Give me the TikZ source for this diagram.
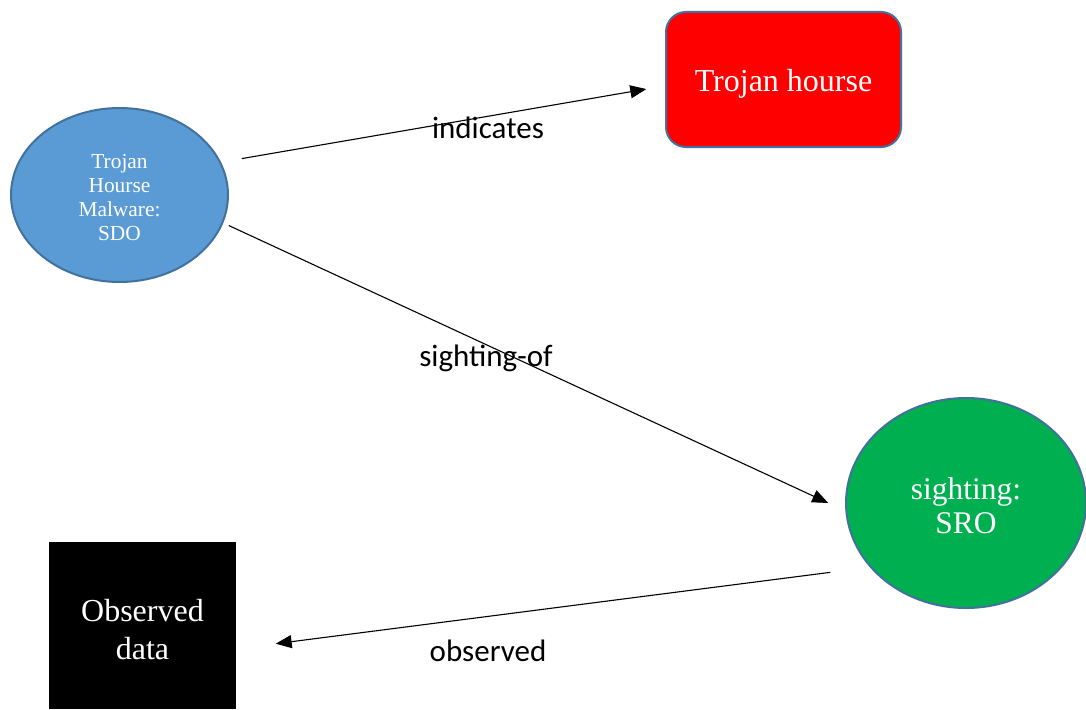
\documentclass[tikz,border=0pt]{standalone}
\usepackage{fontspec}
\setmainfont{Liberation Serif}
\newfontfamily\lblfont{Carlito}
\usetikzlibrary{arrows.meta,shapes.geometric}
\definecolor{sdoblue}{HTML}{5B9BD5}
\definecolor{edgeblue}{HTML}{41719C}
\definecolor{sroGreen}{HTML}{00B050}
\tikzset{
  obj/.style={draw=edgeblue, line width=2pt, text=white, align=center, inner sep=0pt, outer sep=0pt},
  rel/.style={draw=black, line width=1.1pt, -{Triangle[length=16pt,width=13pt]}},
  lbl/.style={font=\lblfont\fontsize{31}{36}\selectfont, text=black, inner sep=0pt},
}
\begin{document}
\begin{tikzpicture}[x=1pt,y=-1pt]
\useasboundingbox (0,0) rectangle (1086,709);
\node[obj, ellipse, fill=sdoblue, minimum width=217pt, minimum height=174pt,
      font=\fontsize{21.4}{24}\selectfont] (sdo) at (119.5,195) {\rule{0pt}{19.8pt}Trojan\\Hourse\\Malware:\\SDO};
\node[obj, rectangle, rounded corners=20pt, fill=red, minimum width=235pt, minimum height=135pt,
      font=\fontsize{32}{38}\selectfont] (troj) at (783.5,79.5) {\rule{0pt}{30pt}Trojan hourse};
\node[obj, ellipse, fill=sroGreen, minimum width=240pt, minimum height=210pt,
      font=\fontsize{31.5}{34}\selectfont] (sro) at (966,503) {\rule{0pt}{27.7pt}sighting:\\SRO};
\node[obj, rectangle, draw=none, fill=black, minimum width=187pt, minimum height=167pt,
      font=\fontsize{32}{38}\selectfont] (obs) at (142.5,625.5) {\rule{0pt}{30pt}Observed\\data};
\draw[rel, shorten <=22pt, shorten >=20pt] (sdo.18) -- (troj.183);
\draw[rel, shorten <=7pt, shorten >=20pt] (sdo.-15) -- (sro.184);
\draw[rel, shorten <=41pt, shorten >=40pt] (sro.214) -- (obs.-14);
\node[lbl] (l1) at (488,128) {indicates};
\node[lbl] (l2) at (486,358) {sighting-of};
\node[lbl] (l3) at (488,651) {observed};
\end{tikzpicture}
\end{document}
